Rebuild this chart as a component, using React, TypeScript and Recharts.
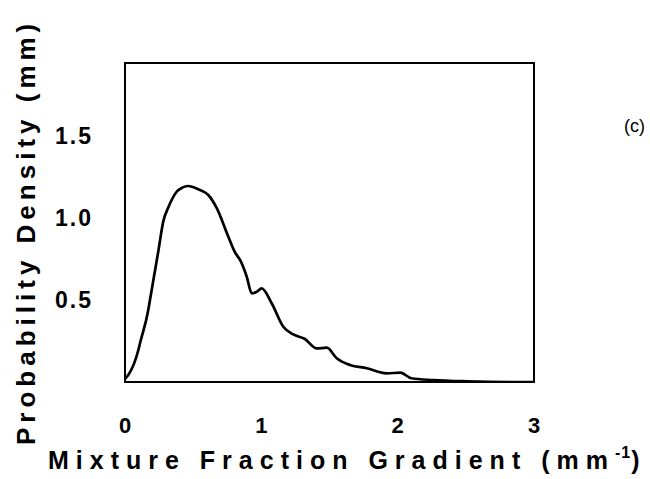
import React from "react";
import {LineChart, Line, XAxis, YAxis, ReferenceArea} from "recharts";

// Gradient values (mm^-1) and probability density
const gradient = [
	0, 0.024, 0.098, 0.11, 0.171, 0.183, 0.208, 0.245, 0.281, 0.318, 0.379, 0.42, 0.464, 0.538, 0.611, 0.673, 0.758, 0.807,
	0.844, 0.893, 0.93, 0.965, 1.003, 1.076, 1.161, 1.235, 1.32, 1.406, 1.48, 1.553, 1.65, 1.773, 1.92, 2.02, 2.1, 2.26,
	2.51, 2.82, 3.0,
];
const density = [
	0.02, 0.043, 0.195, 0.236, 0.44, 0.5, 0.62, 0.8, 0.98, 1.065, 1.16, 1.185, 1.195, 1.175, 1.14, 1.06, 0.886, 0.79, 0.744,
	0.642, 0.54, 0.55, 0.571, 0.48, 0.337, 0.29, 0.262, 0.205, 0.209, 0.145, 0.104, 0.084, 0.053, 0.057, 0.023, 0.012,
	0.004, 0.0, 0.0,
];
const xTicks = [0, 1, 2, 3];
const yTicks = [0.5, 1.0, 1.5];
const xDomain = [0, 3];
const yDomain = [0, 1.945];

const data = gradient.map((x, i) => ({x, y: density[i]}));

const FONT = "'Liberation Sans', Arial, sans-serif";

function XTick({x, y, payload}: any) {
	return (
		<text
			x={x}
			y={y}
			dy='0.71em'
			textAnchor='middle'
			fontFamily={FONT}
			fontWeight='bold'
			fontSize={22}
			fill='#000'
		>
			{payload.value}
		</text>
	);
}

function YTick({x, y, payload}: any) {
	return (
		<text
			x={x}
			y={y}
			dominantBaseline='central'
			textAnchor='end'
			fontFamily={FONT}
			fontWeight='bold'
			fontSize={23}
			letterSpacing={2}
			fill='#000'
		>
			{Number(payload.value).toFixed(1)}
		</text>
	);
}

export default function App() {
	return (
		<div style={{position: "absolute", left: 0, top: 0, background: "#fff"}}>
			<LineChart
				width={650}
				height={479}
				data={data}
				margin={{top: 63, right: 116, bottom: 0, left: 0}}
			>
				<XAxis
					dataKey='x'
					type='number'
					domain={xDomain}
					ticks={xTicks}
					allowDataOverflow
					height={97}
					tickSize={0}
					tickMargin={35}
					tickLine={false}
					axisLine={{stroke: "#000", strokeWidth: 2}}
					tick={<XTick />}
				/>
				<YAxis
					type='number'
					domain={yDomain}
					ticks={yTicks}
					allowDataOverflow
					width={125}
					tickSize={0}
					tickMargin={32}
					tickLine={false}
					axisLine={{stroke: "#000", strokeWidth: 2}}
					tick={<YTick />}
				/>
				{/* frame around the plot */}
				<ReferenceArea
					x1={xDomain[0]}
					x2={xDomain[1]}
					y1={yDomain[0]}
					y2={yDomain[1]}
					fill='none'
					fillOpacity={0}
					stroke='#000'
					strokeWidth={2}
					strokeOpacity={1}
					ifOverflow='visible'
				/>
				<Line
					type='monotone'
					dataKey='y'
					stroke='#000'
					strokeWidth={2.7}
					dot={false}
					isAnimationActive={false}
				/>
				<text
					x={48}
					y={469}
					fontFamily={FONT}
					fontWeight='bold'
					fontSize={25}
					letterSpacing={7}
					fill='#000'
				>
					Mixture Fraction Gradient (mm
					<tspan
						fontSize={16}
						dy={-11}
						letterSpacing={1}
					>
						-1
					</tspan>
					<tspan dy={11}>)</tspan>
				</text>
				<text
					x={35}
					y={445}
					transform='rotate(-90, 35, 445)'
					fontFamily={FONT}
					fontWeight='bold'
					fontSize={26}
					letterSpacing={5}
					fill='#000'
				>
					Probability Density (mm)
				</text>
				<text
					x={624}
					y={132}
					fontFamily={FONT}
					fontSize={18}
					fill='#000'
				>
					(c)
				</text>
			</LineChart>
		</div>
	);
}
